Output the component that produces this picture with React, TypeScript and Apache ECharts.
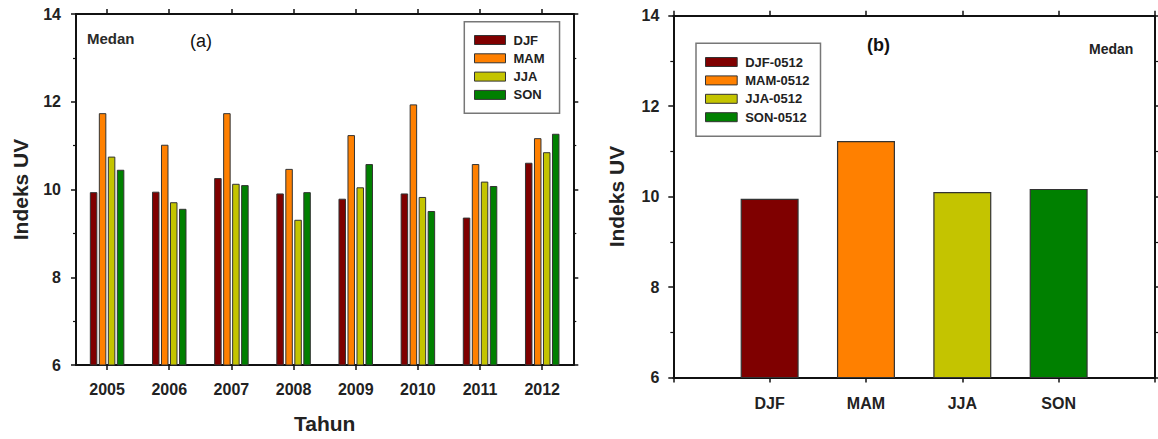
import React, { useEffect, useRef } from "react";
import * as echarts from "echarts";

// ---- data ----
const years = ["2005", "2006", "2007", "2008", "2009", "2010", "2011", "2012"];
const seasons = ["DJF", "MAM", "JJA", "SON"];
const djf = [9.94, 9.95, 10.26, 9.91, 9.79, 9.91, 9.36, 10.61];
const mam = [11.74, 11.02, 11.74, 10.47, 11.24, 11.94, 10.58, 11.17];
const jja = [10.75, 9.71, 10.13, 9.31, 10.05, 9.83, 10.18, 10.85];
const son = [10.45, 9.56, 10.1, 9.94, 10.58, 9.51, 10.08, 11.27];
const meanNames = ["DJF-0512", "MAM-0512", "JJA-0512", "SON-0512"];
const meanCategories = ["", "DJF", "MAM", "JJA", "SON", ""];
const meanValues = [9.95, 11.23, 10.1, 10.17];
const yMin = 6;
const yMax = 14;
const yInterval = 2;

const colors = ["#7f0000", "#ff8000", "#c4c400", "#008000"];
const FONT = "Arial, 'Liberation Sans', sans-serif";

export default function App() {
  const ref = useRef<HTMLDivElement>(null);
  useEffect(() => {
    if (!ref.current) return;
    const chart = echarts.init(ref.current, null, { renderer: "svg" });

    const axisLine = { show: true, onZero: false, lineStyle: { color: "#111", width: 2 } };
    const labelStyle = { fontFamily: FONT, fontWeight: "bold" as const, fontSize: 16, color: "#222" };

    const xAxisBase = (grid: number, data: string[], pos: "top" | "bottom", boundaryGap: boolean) => ({
      gridIndex: grid,
      type: "category" as const,
      data,
      position: pos,
      boundaryGap,
      axisLine,
      axisTick: { show: true, alignWithLabel: true, length: 5, inside: false, lineStyle: { color: "#111", width: 1.5 } },
      splitLine: { show: false },
    });
    const yAxisBase = (grid: number, pos: "left" | "right") => ({
      gridIndex: grid,
      type: "value" as const,
      position: pos,
      min: yMin,
      max: yMax,
      interval: yInterval,
      axisLine,
      axisTick: { show: true, length: 5, lineStyle: { color: "#111", width: 1.5 } },
      minorTick: { show: true, splitNumber: 2, length: 3, lineStyle: { color: "#111", width: 1.2 } },
      splitLine: { show: false },
    });

    const seriesA = [djf, mam, jja, son].map((vals, i) => ({
      name: seasons[i],
      type: "bar" as const,
      xAxisIndex: 0,
      yAxisIndex: 0,
      data: vals,
      barWidth: 7.5,
      barGap: "20%",
      itemStyle: { color: colors[i], borderColor: "#333", borderWidth: 1 },
    }));

    const seriesB = meanValues.map((v, i) => ({
      name: meanNames[i],
      type: "bar" as const,
      xAxisIndex: 2,
      yAxisIndex: 2,
      data: meanCategories.map((_, j) => (j === i + 1 ? v : "-")),
      barWidth: 58,
      barGap: "-100%",
      itemStyle: { color: colors[i], borderColor: "#333", borderWidth: 1.2 },
    }));

    const legendBase = {
      orient: "vertical" as const,
      icon: "rect",
      itemWidth: 31,
      itemHeight: 9,
      borderColor: "#777",
      borderWidth: 1.5,
      backgroundColor: "#fff",
      itemStyle: { borderColor: "#333", borderWidth: 1 },
      textStyle: { fontFamily: FONT, fontWeight: "bold" as const, fontSize: 13, color: "#222", lineHeight: 13, padding: [0, 0, 0, 3] },
    };

    chart.setOption({
      animation: false,
      backgroundColor: "#fff",
      grid: [
        { left: 76, right: 584.7, top: 14, bottom: 73, containLabel: false },
        { left: 673.3, right: 1.5, top: 15.7, bottom: 61.5, containLabel: false },
      ],
      legend: [
        {
          ...legendBase,
          data: seasons,
          left: 464.3,
          top: 21.7,
          itemGap: 5.3,
          padding: [11.8, 15, 11.8, 9.7],
        },
        {
          ...legendBase,
          data: meanNames,
          left: 696,
          top: 43.3,
          itemWidth: 31.7,
          itemGap: 5.4,
          padding: [12.2, 11, 12.5, 9],
        },
      ],
      xAxis: [
        {
          ...xAxisBase(0, years, "bottom", true),
          axisLabel: { ...labelStyle, margin: 16, interval: 0 },
          name: "Tahun",
          nameLocation: "middle",
          nameGap: 48,
          nameTextStyle: { fontFamily: FONT, fontWeight: "bold", fontSize: 21, color: "#222" },
        },
        { ...xAxisBase(0, years, "top", true), axisLabel: { show: false } },
        {
          ...xAxisBase(1, meanCategories, "bottom", false),
          axisLabel: { ...labelStyle, margin: 18, interval: 0 },
        },
        { ...xAxisBase(1, meanCategories, "top", false), axisLabel: { show: false } },
      ],
      yAxis: [
        {
          ...yAxisBase(0, "left"),
          axisLabel: { ...labelStyle, margin: 15 },
          name: "Indeks UV",
          nameLocation: "middle",
          nameGap: 45,
          nameRotate: 90,
          nameTextStyle: { fontFamily: FONT, fontWeight: "bold", fontSize: 21, color: "#222" },
        },
        { ...yAxisBase(0, "right"), axisLabel: { show: false } },
        {
          ...yAxisBase(1, "left"),
          axisLabel: { ...labelStyle, margin: 14 },
          name: "Indeks UV",
          nameLocation: "middle",
          nameGap: 46,
          nameRotate: 90,
          nameTextStyle: { fontFamily: FONT, fontWeight: "bold", fontSize: 21, color: "#222" },
        },
        { ...yAxisBase(1, "right"), axisLabel: { show: false } },
      ],
      graphic: [
        { type: "text", left: 87, top: 31, style: { text: "Medan", font: `bold 15px ${FONT}`, fill: "#2a2a2a" } },
        { type: "text", left: 190, top: 32, style: { text: "(a)", font: `18px ${FONT}`, fill: "#111" } },
        { type: "text", left: 867, top: 36, style: { text: "(b)", font: `bold 18px ${FONT}`, fill: "#111" } },
        { type: "text", left: 1089, top: 42, style: { text: "Medan", font: `bold 14px ${FONT}`, fill: "#222" } },
      ],
      series: [...seriesA, ...seriesB],
    });

    return () => chart.dispose();
  }, []);

  return (
    <div
      ref={ref}
      style={{ position: "fixed", left: 0, top: 0, width: 1158, height: 439, background: "#fff" }}
    />
  );
}
